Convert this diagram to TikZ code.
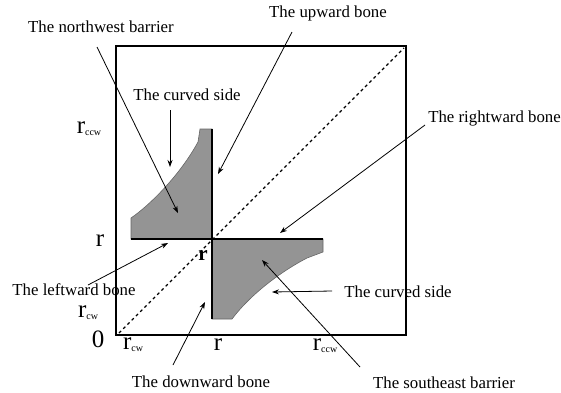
\documentclass[tikz,border=0pt]{standalone}
\usepackage{fontspec}
\setmainfont{Liberation Serif}
\usetikzlibrary{arrows.meta}
\begin{document}
\begin{tikzpicture}[x=1pt,y=-1pt,
  lbl/.style={inner sep=0pt,font=\fontsize{16.8}{18}\selectfont},
  axl/.style={inner sep=0pt,font=\fontsize{25}{25}\selectfont},
  conn/.style={line width=0.8pt,-{Stealth[length=7pt,width=5pt]}},
  bone/.style={line width=2.6pt},
  region/.style={fill=black!42,draw=black!60,line width=0.6pt}]
\useasboundingbox (0,0) rectangle (561,392);
% regions
\path[region] (212,239) -- (131,239) -- (131,218) .. controls (150,205) and (180,175) .. (198,142) -- (200,129) -- (212,129) -- cycle;
\path[region] (212,239) -- (323,239) -- (323,252) -- (307,258) .. controls (280,272) and (250,295) .. (232,319) -- (212,319) -- cycle;
% frame and diagonal
\draw[line width=2pt] (116,46) rectangle (406,335);
\draw[line width=1.1pt,dash pattern=on 3pt off 3pt] (119,333) -- (404,48);
% bones
\draw[bone] (212,129) -- (212,239);
\draw[bone] (131,239) -- (212,239);
\draw[bone] (212,239) -- (323,239);
\draw[bone] (212,239) -- (212,319);
% labels
\node[lbl] (nwb) at (101,27) {The northwest barrier};
\node[lbl] (upb) at (328,13) {The upward bone};
\node[lbl] (cs1) at (187,95) {The curved side};
\node[lbl,anchor=east] (rwb) at (561,118) {The rightward bone};
\node[lbl] (lwb) at (74,290) {The leftward bone};
\node[lbl] (cs2) at (398,292) {The curved side};
\node[lbl] (dwb) at (201,382) {The downward bone};
\node[lbl] (seb) at (444,383) {The southeast barrier};
% axis labels
\node[axl] (rccwl) at (89,129) {r\raisebox{-2pt}{\fontsize{10}{10}\selectfont ccw}};
\node[axl] (rl) at (100,241) {r};
\node[axl] (rcwl) at (88,313) {r\raisebox{-2pt}{\fontsize{10}{10}\selectfont cw}};
\node[axl] (zero) at (98,339) {0};
\node[axl] (rcwb) at (133,345) {r\raisebox{-2pt}{\fontsize{10}{10}\selectfont cw}};
\node[axl] (rb) at (218,345) {r};
\node[axl] (rccwb) at (325,346) {r\raisebox{-2pt}{\fontsize{10}{10}\selectfont ccw}};
\node[axl,font=\fontsize{21}{21}\selectfont\bfseries] (rc) at (203,256) {r};
% connector ends
\coordinate (nwbS) at (97,47);   \coordinate (nwbT) at (178,213);
\coordinate (upbS) at (292,32);  \coordinate (upbT) at (218,174);
\coordinate (cs1S) at (170,110); \coordinate (cs1T) at (170,167);
\coordinate (rwbS) at (425,125); \coordinate (rwbT) at (280,233);
\coordinate (lwbS) at (88,285);  \coordinate (lwbT) at (168,243);
\coordinate (cs2S) at (332,291); \coordinate (cs2T) at (272,292);
\coordinate (dwbS) at (173,365); \coordinate (dwbT) at (205,302);
\coordinate (sebS) at (360,367); \coordinate (sebT) at (262,260);
\draw[conn] (nwbS) -- (nwbT);
\draw[conn] (upbS) -- (upbT);
\draw[conn] (cs1S) -- (cs1T);
\draw[conn] (rwbS) -- (rwbT);
\draw[conn] (lwbS) -- (lwbT);
\draw[conn] (cs2S) -- (cs2T);
\draw[conn] (dwbS) -- (dwbT);
\draw[conn] (sebS) -- (sebT);
\end{tikzpicture}
\end{document}
